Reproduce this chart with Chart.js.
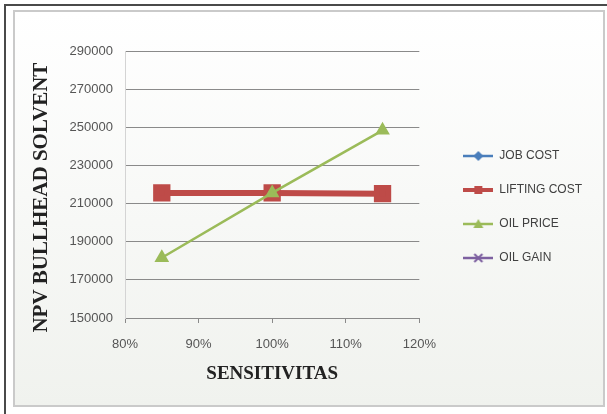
<!DOCTYPE html>
<html>
<head>
<meta charset="utf-8">
<script src="https://cdn.jsdelivr.net/npm/chart.js@4.4.1/dist/chart.umd.min.js"></script>
<style>
  body { margin: 0; width: 607px; height: 414px; overflow: hidden; background: #fff; position: relative; }
  #outer { position: absolute; left: 4px; top: 4px; width: 700px; height: 500px; border-left: 2px solid #4a4a4a; border-top: 2px solid #4a4a4a; }
  #frame { position: absolute; left: 13px; top: 10px; width: 588px; height: 393px; border: 2px solid #cacaca; background: linear-gradient(#ffffff, #f0f2ee); }
  #wrap { position: absolute; left: 0; top: 0; width: 607px; height: 414px; }
</style>
</head>
<body>
<div id="outer"></div>
<div id="frame"></div>
<div id="wrap"><canvas id="myChart" width="607" height="414"></canvas></div>
<script>
// sensitivity (%) vs NPV bullhead solvent
const sensitivity = [85, 100, 115];
const jobCost = [215600, 215600, 215200];
const liftingCost = [215600, 215600, 215200];
const oilPrice = [181600, 215600, 248400];
const oilGain = [215600, 215600, 215200];
const seriesNames = ["JOB COST", "LIFTING COST", "OIL PRICE", "OIL GAIN"];
const yTicks = [150000, 170000, 190000, 210000, 230000, 250000, 270000, 290000];
const xTicks = [80, 90, 100, 110, 120];

const colors = ["#4a7ebb", "#be4b48", "#9bbb59", "#7d60a0"];

function points(values) {
  return sensitivity.map(function (x, i) {
    return { x: x, y: values[i] };
  });
}

// small line + marker glyph for the legend
function legendIcon(color, width, shape) {
  const c = document.createElement("canvas");
  c.width = 30;
  c.height = 14;
  const g = c.getContext("2d");
  g.strokeStyle = color;
  g.fillStyle = color;
  g.lineWidth = width;
  g.beginPath();
  g.moveTo(0, 7);
  g.lineTo(30, 7);
  g.stroke();
  g.beginPath();
  if (shape == "rect") {
    g.rect(11, 3, 8, 8);
    g.fill();
  } else if (shape == "triangle") {
    g.moveTo(15, 2);
    g.lineTo(20, 11);
    g.lineTo(10, 11);
    g.closePath();
    g.fill();
  } else if (shape == "rectRot") {
    g.moveTo(15, 2);
    g.lineTo(20, 7);
    g.lineTo(15, 12);
    g.lineTo(10, 7);
    g.closePath();
    g.fill();
  } else {
    g.lineWidth = 2;
    g.moveTo(11, 3);
    g.lineTo(19, 11);
    g.moveTo(19, 3);
    g.lineTo(11, 11);
    g.stroke();
  }
  return c;
}

const icons = [
  legendIcon(colors[0], 2.5, "rectRot"),
  legendIcon(colors[1], 4, "rect"),
  legendIcon(colors[2], 2.5, "triangle"),
  legendIcon(colors[3], 2.5, "crossRot"),
];

const datasets = [
  {
    label: seriesNames[0],
    data: points(jobCost),
    borderColor: colors[0],
    backgroundColor: colors[0],
    borderWidth: 3,
    pointStyle: "rectRot",
    pointRadius: 6,
    order: 2,
  },
  {
    label: seriesNames[1],
    data: points(liftingCost),
    borderColor: colors[1],
    backgroundColor: colors[1],
    borderWidth: 6,
    pointStyle: "rect",
    pointRadius: 8,
    order: 1,
  },
  {
    label: seriesNames[2],
    data: points(oilPrice),
    borderColor: colors[2],
    backgroundColor: colors[2],
    borderWidth: 2.5,
    pointStyle: "triangle",
    pointRadius: 6,
    order: 0,
  },
  {
    label: seriesNames[3],
    data: points(oilGain),
    borderColor: colors[3],
    backgroundColor: colors[3],
    borderWidth: 3,
    pointStyle: "crossRot",
    pointRadius: 6,
    order: 3,
  },
];

const tickFont = { family: "Liberation Sans", size: 13 };
const titleFont = { family: "Liberation Serif", size: 19, weight: "bold" };

const config = {
  type: "line",
  data: { datasets: datasets },
  options: {
    responsive: false,
    animation: false,
    layout: { padding: { left: 0, top: 0, right: 15, bottom: 0 } },
    plugins: {
      tooltip: { enabled: false },
      title: { display: true, text: "", font: { size: 12 }, padding: { top: 0, bottom: 36.6 } },
      legend: {
        position: "right",
        maxWidth: 220,
        labels: {
          usePointStyle: true,
          pointStyleWidth: 30,
          padding: 22,
          color: "#404040",
          font: { family: "Liberation Sans", size: 12 },
          sort: function (a, b) {
            return a.datasetIndex - b.datasetIndex;
          },
          generateLabels: function (chart) {
            const items = Chart.defaults.plugins.legend.labels.generateLabels(chart);
            items.forEach(function (item) {
              item.pointStyle = icons[item.datasetIndex];
            });
            return items;
          },
        },
      },
    },
    scales: {
      x: {
        type: "linear",
        min: 80,
        max: 120,
        afterBuildTicks: function (s) {
          s.ticks = xTicks.map(function (v) { return { value: v }; });
        },
        afterFit: function (s) {
          s.height = 96;
        },
        ticks: {
          callback: function (v) { return v + "%"; },
          color: "#555",
          font: tickFont,
          padding: 14,
          maxRotation: 0,
        },
        grid: { drawOnChartArea: false, drawTicks: true, tickLength: 5, color: "#8a8a8a" },
        border: { color: "#8a8a8a" },
        title: {
          display: true,
          text: "SENSITIVITAS",
          color: "#222",
          font: titleFont,
          padding: { top: 0, bottom: 28.6 },
        },
      },
      y: {
        min: 150000,
        max: 290000,
        afterBuildTicks: function (s) {
          s.ticks = yTicks.map(function (v) { return { value: v }; });
        },
        afterFit: function (s) {
          s.width = 125;
        },
        ticks: {
          callback: function (v) { return String(v); },
          color: "#555",
          font: tickFont,
          padding: 12,
        },
        grid: { color: "#8a8a8a", drawTicks: false },
        border: { color: "#d4d4d4" },
        title: {
          display: true,
          // trailing spaces nudge the rotated title toward the bottom
          text: "NPV BULLHEAD SOLVENT     ",
          color: "#222",
          font: { family: "Liberation Serif", size: 21, weight: "bold" },
          padding: { top: 29, bottom: 0 },
        },
      },
      gap: {
        type: "linear",
        position: "right",
        grid: { display: false },
        ticks: { display: false },
        border: { display: false },
        afterFit: function (s) {
          s.width = 22;
        },
      },
    },
  },
};

const myChart = new Chart(document.getElementById("myChart"), config);
</script>
</body>
</html>
